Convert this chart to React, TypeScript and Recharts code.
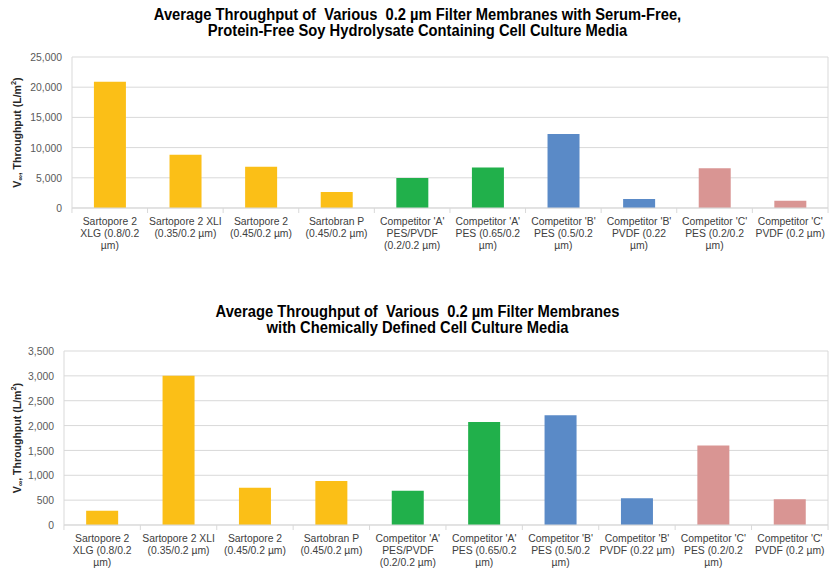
import React from "react";
import { Bar, BarChart, CartesianGrid, Cell, XAxis, YAxis } from "recharts";

// categories (x tick labels, \n = line break as in the figure)
const categoriesSerumFree = [
  "Sartopore 2\nXLG (0.8/0.2\nµm)",
  "Sartopore 2 XLI\n(0.35/0.2 µm)",
  "Sartopore 2\n(0.45/0.2 µm)",
  "Sartobran P\n(0.45/0.2 µm)",
  "Competitor 'A'\nPES/PVDF\n(0.2/0.2 µm)",
  "Competitor 'A'\nPES (0.65/0.2\nµm)",
  "Competitor 'B'\nPES (0.5/0.2\nµm)",
  "Competitor 'B'\nPVDF (0.22\nµm)",
  "Competitor 'C'\nPES (0.2/0.2\nµm)",
  "Competitor 'C'\nPVDF (0.2 µm)",
];
const categoriesChemDefined = [
  "Sartopore 2\nXLG (0.8/0.2\nµm)",
  "Sartopore 2 XLI\n(0.35/0.2 µm)",
  "Sartopore 2\n(0.45/0.2 µm)",
  "Sartobran P\n(0.45/0.2 µm)",
  "Competitor 'A'\nPES/PVDF\n(0.2/0.2 µm)",
  "Competitor 'A'\nPES (0.65/0.2\nµm)",
  "Competitor 'B'\nPES (0.5/0.2\nµm)",
  "Competitor 'B'\nPVDF (0.22 µm)",
  "Competitor 'C'\nPES (0.2/0.2\nµm)",
  "Competitor 'C'\nPVDF (0.2 µm)",
];

// V∞ throughput, L/m²
const throughputSerumFree = [20900, 8800, 6850, 2650, 4950, 6700, 12250, 1500, 6600, 1220];
const throughputChemDefined = [285, 3000, 750, 885, 690, 2070, 2210, 540, 1600, 520];

const ticksSerumFree = [0, 5000, 10000, 15000, 20000, 25000];
const ticksChemDefined = [0, 500, 1000, 1500, 2000, 2500, 3000, 3500];

const barColors = [
  "#FBBF17", "#FBBF17", "#FBBF17", "#FBBF17",
  "#21B04B", "#21B04B",
  "#5A8AC7", "#5A8AC7",
  "#D99593", "#D99593",
];

const FONT = "'Liberation Sans', Arial, sans-serif";
const GRID = "#D9D9D9";
const SQUEEZE = 0.92; // the source figure is slightly condensed horizontally

const fmt = (v: number) => v.toLocaleString("en-US");

function CategoryTick(props: any) {
  const { x, y, payload, band } = props;
  const lines = String(payload.value).split("\n");
  const left = x - band / 2;
  return (
    <g>
      <line x1={left} y1={y} x2={left} y2={y + 5} stroke={GRID} />
      {payload.index === 9 && (
        <line x1={left + band} y1={y} x2={left + band} y2={y + 5} stroke={GRID} />
      )}
      <text
        transform={`translate(${x},${y}) scale(${SQUEEZE},1)`}
        textAnchor="middle"
        fontSize={11.3}
        fill="#404040"
        fontFamily={FONT}
      >
        {lines.map((l, i) => (
          <tspan key={i} x={0} y={17 + i * 12}>
            {l}
          </tspan>
        ))}
      </text>
    </g>
  );
}

function ValueTick(props: any) {
  const { x, y, payload } = props;
  return (
    <text
      transform={`translate(${x},${y}) scale(${SQUEEZE},1)`}
      textAnchor="end"
      dy="0.36em"
      fontSize={11.3}
      fill="#595959"
      fontFamily={FONT}
    >
      {fmt(payload.value)}
    </text>
  );
}

function YLabel({ viewBox }: any) {
  const cx = 17;
  const cy = viewBox.y + viewBox.height / 2;
  return (
    <text
      transform={`translate(${cx},${cy}) rotate(-90) scale(${SQUEEZE},1)`}
      textAnchor="middle"
      dominantBaseline="central"
      fontSize={11.5}
      fontWeight="bold"
      fill="#262626"
      fontFamily={FONT}
    >
      V
      <tspan fontSize={8} dy={3}>∞</tspan>
      <tspan dy={-3}>, Throughput (L/m</tspan>
      <tspan fontSize={8} dy={-4}>2</tspan>
      <tspan dy={4}>)</tspan>
    </text>
  );
}

function ThroughputChart({
  categories,
  values,
  ticks,
  height,
  top,
  yWidth,
  xHeight,
}: {
  categories: string[];
  values: number[];
  ticks: number[];
  height: number;
  top: number;
  yWidth: number;
  xHeight: number;
}) {
  const data = categories.map((c, i) => ({ name: c, value: values[i] }));
  const band = (829 - yWidth) / categories.length;
  return (
    <BarChart
      width={830}
      height={height}
      data={data}
      margin={{ top, right: 1, left: 0, bottom: 0 }}
      barCategoryGap="29%"
    >
      <CartesianGrid vertical={false} stroke={GRID} />
      <XAxis
        dataKey="name"
        interval={0}
        height={xHeight}
        tickLine={false}
        axisLine={{ stroke: GRID }}
        tick={<CategoryTick band={band} />}
        tickMargin={0}
        tickSize={0}
      />
      <YAxis
        width={yWidth}
        ticks={ticks}
        domain={[0, ticks[ticks.length - 1]]}
        tickLine={false}
        tickSize={0}
        tickMargin={10}
        axisLine={{ stroke: GRID }}
        tick={<ValueTick />}
        label={<YLabel />}
      />
      <YAxis
        yAxisId="frame"
        orientation="right"
        width={1}
        tick={false}
        tickLine={false}
        axisLine={{ stroke: GRID }}
      />
      <Bar dataKey="value" isAnimationActive={false}>
        {data.map((_, i) => (
          <Cell key={i} fill={barColors[i]} />
        ))}
      </Bar>
    </BarChart>
  );
}

const titleStyle: React.CSSProperties = {
  position: "absolute",
  left: 0,
  width: 835,
  textAlign: "center",
  fontFamily: FONT,
  fontWeight: "bold",
  fontSize: 16,
  lineHeight: "16px",
  color: "#000",
  whiteSpace: "pre",
  transform: `scaleX(${SQUEEZE})`,
  transformOrigin: "center",
};

export default function App() {
  return (
    <div style={{ position: "absolute", left: 0, top: 0, width: 830, height: 571, background: "#fff" }}>
      <div style={{ ...titleStyle, top: 7 }}>
        {"Average Throughput of  Various  0.2 µm Filter Membranes with Serum-Free,\nProtein-Free Soy Hydrolysate Containing Cell Culture Media"}
      </div>
      <div style={{ position: "absolute", left: 0, top: 0 }}>
        <ThroughputChart
          categories={categoriesSerumFree}
          values={throughputSerumFree}
          ticks={ticksSerumFree}
          height={258}
          top={57}
          yWidth={72}
          xHeight={50}
        />
      </div>
      <div style={{ ...titleStyle, top: 304 }}>
        {"Average Throughput of  Various  0.2 µm Filter Membranes\nwith Chemically Defined Cell Culture Media"}
      </div>
      <div style={{ position: "absolute", left: 0, top: 290 }}>
        <ThroughputChart
          categories={categoriesChemDefined}
          values={throughputChemDefined}
          ticks={ticksChemDefined}
          height={281}
          top={61}
          yWidth={64}
          xHeight={46}
        />
      </div>
    </div>
  );
}
